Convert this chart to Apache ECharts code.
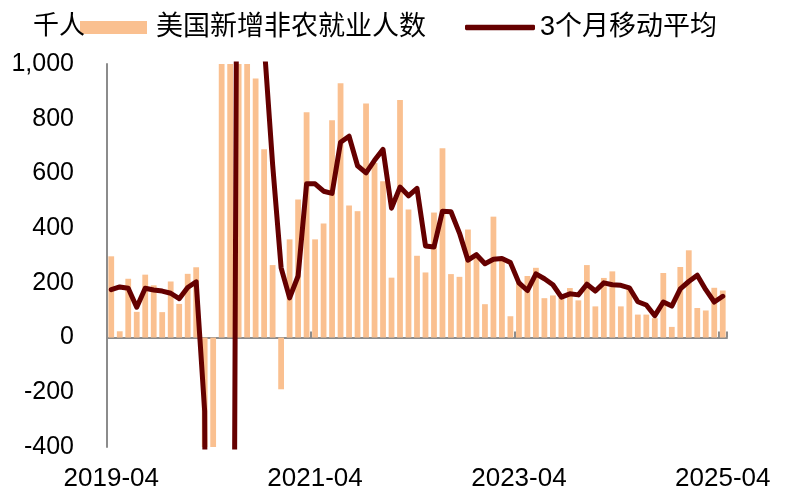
<!DOCTYPE html>
<html><head><meta charset="utf-8">
<script src="https://cdn.jsdelivr.net/npm/echarts@6/dist/echarts.min.js"></script>
<style>html,body{margin:0;padding:0;background:#fff}#c{width:795px;height:504px}</style>
</head><body><div id="c"></div>
<script>
const categories = [
'2019-04','2019-05','2019-06','2019-07','2019-08','2019-09','2019-10','2019-11','2019-12',
'2020-01','2020-02','2020-03','2020-04','2020-05','2020-06','2020-07','2020-08','2020-09','2020-10','2020-11','2020-12',
'2021-01','2021-02','2021-03','2021-04','2021-05','2021-06','2021-07','2021-08','2021-09','2021-10','2021-11','2021-12',
'2022-01','2022-02','2022-03','2022-04','2022-05','2022-06','2022-07','2022-08','2022-09','2022-10','2022-11','2022-12',
'2023-01','2023-02','2023-03','2023-04','2023-05','2023-06','2023-07','2023-08','2023-09','2023-10','2023-11','2023-12',
'2024-01','2024-02','2024-03','2024-04','2024-05','2024-06','2024-07','2024-08','2024-09','2024-10','2024-11','2024-12',
'2025-01','2025-02','2025-03','2025-04'];
// 美国新增非农就业人数 (千人)
const payrolls = [
297, 23, 215, 94, 230, 191, 93, 205, 123,
233, 257, -1300, -20500, 2700, 4800, 1700, 1600, 947, 688, 265, -189,
359, 505, 824, 359, 417, 794, 930, 483, 462, 856, 638, 571,
219, 868, 468, 299, 238, 457, 692, 232, 222, 395, 293, 122,
442, 290, 78, 205, 225, 255, 144, 154, 145, 181, 136, 265,
114, 218, 242, 114, 185, 84, 84, 71, 236, 39, 258, 319,
108, 99, 182, 172];
// 3个月移动平均 (千人)
const movingAvg3 = [
175, 185, 180, 111, 180, 174, 170, 162, 142,
183, 204, -269, -7200, -6390, -4330, 3070, 2700, 1420, 1075, 633, 255,
145, 225, 562, 562, 535, 527, 714, 736, 628, 602, 648, 688,
473, 550, 518, 545, 335, 331, 462, 460, 382, 283, 303, 270,
286, 289, 274, 200, 172, 233, 215, 193, 148, 160, 156, 195,
170, 200, 193, 191, 182, 131, 119, 80, 130, 115, 178, 205,
228, 175, 130, 151];
const seriesNames = ['美国新增非农就业人数', '3个月移动平均'];
const unitLabel = '千人';

const FONT = '"Liberation Sans", Arial, "Noto Sans CJK SC", sans-serif';
const chart = echarts.init(document.getElementById('c'), null, {renderer: 'canvas'});
chart.setOption({
  animation: false,
  backgroundColor: '#ffffff',
  textStyle: {fontFamily: FONT},
  title: {
    text: unitLabel, left: 33, top: 14, padding: 0,
    textStyle: {fontSize: 26, fontWeight: 'normal', color: '#000', fontFamily: FONT}
  },
  legend: [
    {
      data: [{name: seriesNames[0], icon: 'rect'}],
      left: 80, top: 14, padding: 0,
      itemWidth: 67, itemHeight: 13, itemGap: 0,
      textStyle: {fontSize: 27, color: '#000', fontFamily: FONT, padding: [0, 0, 0, 4]},
      selectedMode: false
    },
    {
      data: [{name: seriesNames[1], icon: 'roundRect'}],
      left: 465, top: 14, padding: 0,
      itemWidth: 70, itemHeight: 5.5, itemGap: 0,
      textStyle: {fontSize: 27, color: '#000', fontFamily: FONT, padding: [0, 0, 0, 0]},
      selectedMode: false
    }
  ],
  grid: {left: 107, right: 68, top: 64, bottom: 57, containLabel: false},
  xAxis: [
    {
      type: 'category', data: categories, boundaryGap: true, position: 'bottom',
      axisLine: {show: false, onZero: false},
      axisTick: {show: false},
      axisLabel: {interval: 23, margin: 19, fontSize: 26, color: '#000', fontFamily: FONT},
      splitLine: {show: false}
    },
    {
      type: 'category', data: categories, boundaryGap: true, position: 'bottom',
      axisLine: {show: true, onZero: true, lineStyle: {color: '#8c8c8c', width: 2}},
      axisTick: {show: true, inside: true, interval: 23, length: 6, lineStyle: {color: '#8c8c8c', width: 2}},
      axisLabel: {show: false},
      splitLine: {show: false}
    }
  ],
  yAxis: {
    type: 'value', min: -400, max: 1000, interval: 200,
    axisLine: {show: true, lineStyle: {color: '#8c8c8c', width: 2}},
    axisTick: {show: false},
    splitLine: {show: false},
    axisLabel: {
      margin: 33, fontSize: 25, color: '#000', fontFamily: FONT,
      formatter: v => v.toLocaleString('en-US')
    }
  },
  series: [
    {
      name: seriesNames[0], type: 'bar', data: payrolls, xAxisIndex: 0,
      barCategoryGap: '32%', clip: true,
      itemStyle: {color: '#FAC090'}
    },
    {
      name: seriesNames[1], type: 'line', data: movingAvg3, xAxisIndex: 0,
      showSymbol: false, symbol: 'none', clip: true,
      lineStyle: {color: '#650000', width: 5, join: 'round', cap: 'round'},
      itemStyle: {color: '#650000'}
    }
  ]
});
</script>
</body></html>
